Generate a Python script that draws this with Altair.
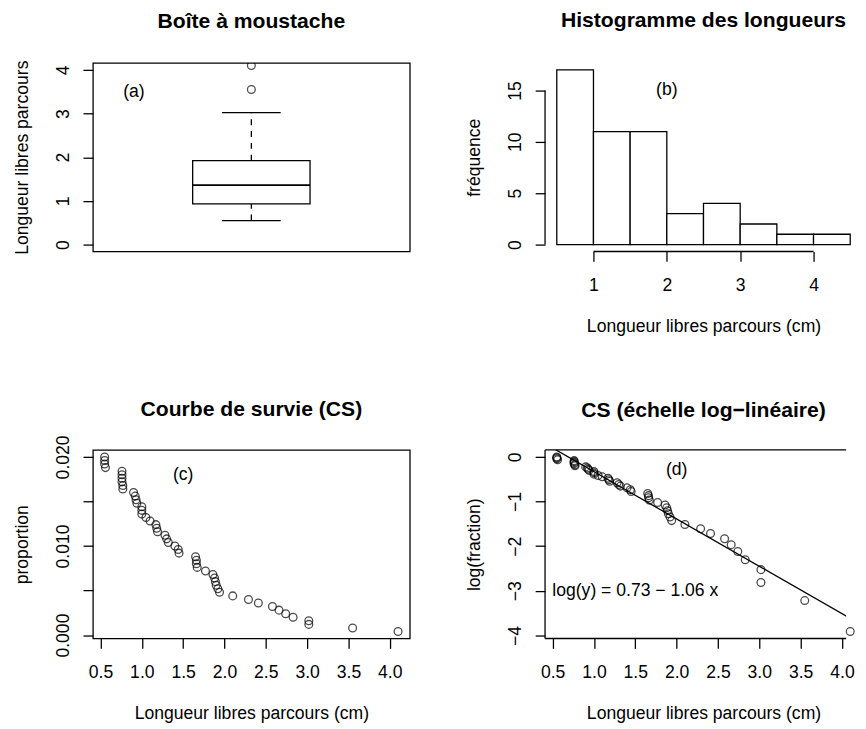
import altair as alt
import numpy as np
import pandas as pd

FONT = "Liberation Sans"
FS = 17.8
TFS = 21.4
LW = 1.3
PSIZE = 62

# ---------------- data ----------------
lengths = [0.55, 0.55, 0.55, 0.56,
           0.76, 0.76, 0.76, 0.76, 0.77, 0.77,
           0.90, 0.92, 0.93, 0.94,
           1.00, 1.00, 1.00,
           1.05, 1.10, 1.17, 1.18, 1.19, 1.28, 1.30, 1.32, 1.40, 1.44, 1.45,
           1.65, 1.66, 1.66, 1.67, 1.77, 1.86, 1.88, 1.89, 1.90, 1.92, 1.94,
           2.10, 2.29, 2.41,
           2.58, 2.66, 2.74, 2.83,
           3.02, 3.02,
           3.55,
           4.10]
bin_edges = [0.5, 1.0, 1.5, 2.0, 2.5, 3.0, 3.5, 4.0, 4.5]
fit_intercept = 0.73
fit_slope = -1.06
equation_label = "log(y) = 0.73 − 1.06 x"

titles = ["Boîte à moustache", "Histogramme des longueurs",
          "Courbe de survie (CS)", "CS (échelle log−linéaire)"]
xlab = "Longueur libres parcours (cm)"
ylabs = ["Longueur libres parcours", "fréquence", "proportion", "log(fraction)"]
panel_tags = ["(a)", "(b)", "(c)", "(d)"]

box_ticks = [0, 1, 2, 3, 4]
hist_xticks = [1, 2, 3, 4]
hist_yticks = [0, 5, 10, 15]
surv_xticks = [0.5, 1.0, 1.5, 2.0, 2.5, 3.0, 3.5, 4.0]
prop_ticks = [0.0, 0.005, 0.010, 0.015, 0.020]
prop_labels = ["0.000", "0.010", "0.020"]
log_ticks = [0, -1, -2, -3, -4]

# ---------------- derived ----------------
x = np.sort(np.array(lengths, dtype=float))
n = len(x)


def fivenum(v):
    m = len(v)
    n4 = np.floor((m + 3) / 2) / 2
    d = np.array([1, n4, (m + 1) / 2, m + 1 - n4, m])
    return 0.5 * (v[np.floor(d).astype(int) - 1] + v[np.ceil(d).astype(int) - 1])


st = fivenum(x)
iqr = st[3] - st[1]
is_out = (x < st[1] - 1.5 * iqr) | (x > st[3] + 1.5 * iqr)
lo_wh, hi_wh = x[~is_out].min(), x[~is_out].max()
outliers = x[is_out]


def rlim(lo, hi):
    e = 0.04 * (hi - lo)
    return [lo - e, hi + e]


# full panel width is W_L; the right column is cut at the window edge
W_L, W_R, H = 321, 305, 191

# panel a
xa = [0.46, 1.54]
ya = rlim(0, 4)
box_df = pd.DataFrame({"x0": [1 - 0.2], "x1": [1 + 0.2], "c0": [1 - 0.1], "c1": [1 + 0.1],
                       "xc": [1.0], "q1": [st[1]], "med": [st[2]], "q3": [st[3]],
                       "lo": [lo_wh], "hi": [hi_wh]})
out_df = pd.DataFrame({"x": [1.0] * len(outliers), "v": outliers})

# panel b
counts = pd.cut(pd.Series(x), bins=bin_edges, right=True).value_counts(sort=False).values
hist_df = pd.DataFrame({"b0": bin_edges[:-1], "b1": bin_edges[1:], "count": counts,
                        "zero": [0] * len(counts)})
xb = rlim(bin_edges[0], bin_edges[-1])
ppu_b = W_L / (xb[1] - xb[0])
xb_r = [xb[0], xb[0] + W_R / ppu_b]
yb = rlim(0, int(counts.max()))

# panel c / d
frac = (n - np.arange(n)) / n
surv_df = pd.DataFrame({"x": x, "prop": frac / n, "logf": np.log(frac)})
xc = rlim(x.min(), x.max())
ppu_c = W_L / (xc[1] - xc[0])
xd = [xc[0], xc[0] + W_R / ppu_c]
yc = rlim(surv_df["prop"].min(), surv_df["prop"].max())
yd = rlim(surv_df["logf"].min(), surv_df["logf"].max())
fit_x = np.array([xc[0], xc[1]])
fit_df = pd.DataFrame({"x": fit_x, "y": fit_intercept + fit_slope * fit_x})

# ---------------- helpers ----------------


def yaxis(title, values, label_expr=None, fmt=None):
    kw = dict(values=values, title=title, labelAngle=270, labelAlign="center",
              labelBaseline="alphabetic", labelPadding=15, tickSize=10,
              titleAngle=270, titleAlign="center", titleBaseline="alphabetic",
              titleX=-66, titleY=H / 2)
    if label_expr:
        kw["labelExpr"] = label_expr
    if fmt:
        kw["format"] = fmt
    return alt.Axis(**kw)


def xaxis(title, values, fmt):
    return alt.Axis(values=values, title=title, format=fmt, labelBaseline="top",
                    labelPadding=16, tickSize=10, titleAlign="center",
                    titleBaseline="alphabetic", titleX=W_L / 2, titleY=81.5)


def ptitle(text, off, dx=0):
    return alt.TitleParams(text=text, font=FONT, fontSize=TFS, fontWeight="bold",
                           color="black", anchor="middle", frame="group",
                           baseline="alphabetic", offset=off, dx=dx)


def enc_x(field, scale, axis):
    if axis is None:
        return alt.X(field, scale=scale, axis=None)
    return alt.X(field, scale=scale, axis=axis)


def tag(text, xv, yv, xs, ys, axx, axy):
    return alt.Chart(pd.DataFrame({"x": [xv], "y": [yv], "t": [text]})).mark_text(
        font=FONT, fontSize=FS, color="black", align="center", baseline="middle"
    ).encode(x=enc_x("x:Q", xs, axx), y=alt.Y("y:Q", scale=ys, axis=axy), text="t:N")


def circles(df, yfield, xs, ys, axx, axy, clip=False):
    return alt.Chart(df).mark_point(shape="circle", filled=False, color="black",
                                    size=PSIZE, strokeWidth=LW, clip=clip).encode(
        x=enc_x("x:Q", xs, axx), y=alt.Y(yfield, scale=ys, axis=axy))


DX_R = (W_L - W_R) / 2

# ---------------- panel a ----------------
sxa = alt.Scale(domain=xa, nice=False, zero=False)
sya = alt.Scale(domain=ya, nice=False, zero=False)
ax_a = yaxis(ylabs[0], box_ticks, fmt="d")
base_a = alt.Chart(box_df)
box = base_a.mark_rect(fill="white", stroke="black", strokeWidth=LW).encode(
    x=alt.X("x0:Q", scale=sxa, axis=None), x2="x1",
    y=alt.Y("q1:Q", scale=sya, axis=ax_a), y2="q3")
med = base_a.mark_rule(color="black", strokeWidth=LW + 0.3).encode(
    x=alt.X("x0:Q", scale=sxa, axis=None), x2="x1",
    y=alt.Y("med:Q", scale=sya, axis=ax_a))
wh_up = base_a.mark_rule(color="black", strokeWidth=LW, strokeDash=[6, 6]).encode(
    x=alt.X("xc:Q", scale=sxa, axis=None),
    y=alt.Y("q3:Q", scale=sya, axis=ax_a), y2="hi")
wh_lo = base_a.mark_rule(color="black", strokeWidth=LW, strokeDash=[6, 6]).encode(
    x=alt.X("xc:Q", scale=sxa, axis=None),
    y=alt.Y("lo:Q", scale=sya, axis=ax_a), y2="q1")
cap_up = base_a.mark_rule(color="black", strokeWidth=LW).encode(
    x=alt.X("c0:Q", scale=sxa, axis=None), x2="c1",
    y=alt.Y("hi:Q", scale=sya, axis=ax_a))
cap_lo = base_a.mark_rule(color="black", strokeWidth=LW).encode(
    x=alt.X("c0:Q", scale=sxa, axis=None), x2="c1",
    y=alt.Y("lo:Q", scale=sya, axis=ax_a))
outp = circles(out_df, "v:Q", sxa, sya, None, ax_a, clip=True)
panel_a = alt.layer(wh_up, wh_lo, cap_up, cap_lo, box, med, outp,
                    tag(panel_tags[0], 0.6, 3.5, sxa, sya, None, ax_a)).properties(
    width=W_L, height=H, title=ptitle(titles[0], 11.6))

# ---------------- panel b ----------------
sxb = alt.Scale(domain=xb_r, nice=False, zero=False)
syb = alt.Scale(domain=yb, nice=False, zero=False)
ax_bx = xaxis(xlab, hist_xticks, "d")
ax_by = yaxis(ylabs[1], hist_yticks, fmt="d")
bars = alt.Chart(hist_df).mark_rect(fill="white", stroke="black", strokeWidth=LW).encode(
    x=alt.X("b0:Q", scale=sxb, axis=ax_bx), x2="b1",
    y=alt.Y("zero:Q", scale=syb, axis=ax_by), y2="count")
xline = alt.Chart(pd.DataFrame({"a": [min(hist_xticks)], "b": [max(hist_xticks)]})).mark_rule(
    color="black", strokeWidth=LW).encode(
    x=alt.X("a:Q", scale=sxb, axis=ax_bx), x2="b", y=alt.value(H))
yline = alt.Chart(pd.DataFrame({"a": [min(hist_yticks)], "b": [max(hist_yticks)]})).mark_rule(
    color="black", strokeWidth=LW).encode(
    y=alt.Y("a:Q", scale=syb, axis=ax_by), y2="b", x=alt.value(0))
panel_b = alt.layer(bars, xline, yline,
                    tag(panel_tags[1], 2.0, 15, sxb, syb, ax_bx, ax_by)).properties(
    width=W_R, height=H, title=ptitle(titles[1], 14.6, DX_R),
    view=alt.ViewBackground(stroke="transparent"))

# ---------------- panel c ----------------
sxc = alt.Scale(domain=xc, nice=False, zero=False)
syc = alt.Scale(domain=yc, nice=False, zero=False)
lab_expr = ("indexof(" + str(prop_labels) + ", format(datum.value, '.3f')) >= 0 ? "
            "format(datum.value, '.3f') : ''")
ax_cx = xaxis(xlab, surv_xticks, ".1f")
ax_cy = yaxis(ylabs[2], prop_ticks, label_expr=lab_expr)
pts_c = circles(surv_df, "prop:Q", sxc, syc, ax_cx, ax_cy)
panel_c = alt.layer(pts_c, tag(panel_tags[2], 1.5, 0.018, sxc, syc, ax_cx, ax_cy)).properties(
    width=W_L, height=H, title=ptitle(titles[2], -2.4))

# ---------------- panel d ----------------
sxd = alt.Scale(domain=xd, nice=False, zero=False)
syd = alt.Scale(domain=yd, nice=False, zero=False)
ax_dx = xaxis(xlab, surv_xticks, ".1f")
ax_dy = yaxis(ylabs[3], log_ticks, fmt="d")
pts_d = circles(surv_df, "logf:Q", sxd, syd, ax_dx, ax_dy)
fit = alt.Chart(fit_df).mark_line(color="black", strokeWidth=LW, clip=True).encode(
    x=alt.X("x:Q", scale=sxd, axis=ax_dx),
    y=alt.Y("y:Q", scale=syd, axis=ax_dy))
frame_src = alt.Chart(pd.DataFrame({"k": [0]}))
frame_top = frame_src.mark_rule(color="black", strokeWidth=LW).encode(
    x=alt.value(0), x2=alt.value(W_R), y=alt.value(0))
frame_bot = frame_src.mark_rule(color="black", strokeWidth=LW).encode(
    x=alt.value(0), x2=alt.value(W_R), y=alt.value(H))
frame_left = frame_src.mark_rule(color="black", strokeWidth=LW).encode(
    x=alt.value(0), y=alt.value(0), y2=alt.value(H))
panel_d = alt.layer(pts_d, fit, frame_top, frame_bot, frame_left,
                    tag(panel_tags[3], 2.0, -0.3, sxd, syd, ax_dx, ax_dy),
                    tag(equation_label, 1.5, -3.0, sxd, syd, ax_dx, ax_dy)).properties(
    width=W_R, height=H, title=ptitle(titles[3], 11.0, DX_R),
    view=alt.ViewBackground(stroke="transparent"))

chart = alt.concat(panel_a, panel_b, panel_c, panel_d, columns=2,
                   spacing={"row": 201, "column": 137}, bounds="flush").properties(
    padding={"left": 5, "top": -3, "right": 0, "bottom": 0},
    background="white",
).configure_view(stroke="black", strokeWidth=LW).configure_axis(
    grid=False, domain=False, tickColor="black", tickWidth=LW,
    labelColor="black", titleColor="black", labelFont=FONT, titleFont=FONT,
    labelFontSize=FS, titleFontSize=FS, titleFontWeight="normal",
    labelFlush=False, labelOverlap=False)

chart.save("out.html", embed_options={"renderer": "svg", "actions": False})
